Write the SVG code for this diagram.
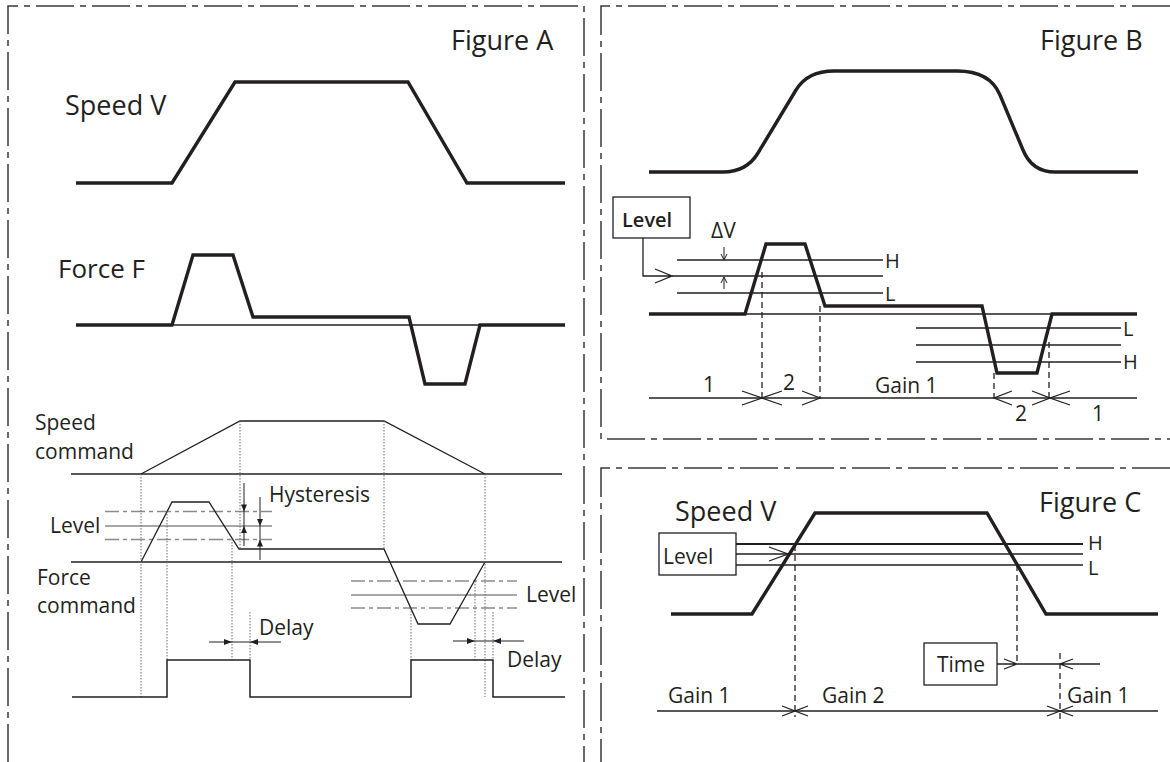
<svg xmlns="http://www.w3.org/2000/svg" width="1170" height="762" viewBox="0 0 1170 762">
<defs>
<style>
text{font-family:"Open Sans","Liberation Sans",sans-serif;fill:#231f20}
.t27{font-size:27px}
.t21{font-size:21px}
.t20{font-size:20px}
.frame{fill:none;stroke:#3a3a3a;stroke-width:1.5;stroke-dasharray:38 6 6 6}
.thick{fill:none;stroke:#231f20;stroke-width:3.4;stroke-linejoin:miter}
.thin{fill:none;stroke:#231f20;stroke-width:1.3}
.lvl{fill:none;stroke:#8a8a8a;stroke-width:1.5}
.lvldd{fill:none;stroke:#8a8a8a;stroke-width:1.5;stroke-dasharray:14 4 4 4}
.dot{fill:none;stroke:#6a6a6a;stroke-width:1;stroke-dasharray:1.5 1.5}
.dash{fill:none;stroke:#231f20;stroke-width:1.3;stroke-dasharray:6 4}
.box{fill:#fff;stroke:#231f20;stroke-width:1.3}
.head{fill:#231f20;stroke:none}
</style>
</defs>

<g id="panels">
<path class="frame" d="M8,762 V6 H584 V762"/>
<path class="frame" d="M1170,6 H601 V439 H1170"/>
<path class="frame" d="M1170,468 H601 V762"/>
</g>

<g id="figure-a">
<text class="t27" x="451" y="50">Figure A</text>
<g id="a-speed">
<text class="t27" x="65" y="115">Speed V</text>
<path class="thick" d="M76,183 H172 L235,82 H408 L467,183 H565"/>
</g>
<g id="a-force">
<text class="t27" x="58" y="278" style="font-size:26px">Force F</text>
<path class="thin" d="M172,325 H480"/>
<path class="thick" d="M76,325 H172 L193,255 H233 L253,317 H409 L425,384 H465 L480,325 H565"/>
</g>
<g id="a-speed-command">
<text class="t21" x="35" y="430">Speed</text>
<text class="t21" x="35" y="459">command</text>
<path class="thin" d="M71,474 H562"/>
<path class="thin" d="M141,474 L240,421 H384 L485,474"/>
</g>
<g id="a-force-command">
<text class="t21" x="37" y="585">Force</text>
<text class="t21" x="37" y="613">command</text>
<path class="lvldd" d="M105,511.5 H272 M105,539.5 H272 M351,581 H517 M351,608 H517"/>
<path class="lvl" d="M105,526 H272 M351,595 H517"/>
<text class="t21" x="50" y="533">Level</text>
<text class="t21" x="526" y="602">Level</text>
<path class="thin" d="M71,562 H562"/>
<path class="thin" d="M141,562 L172,502 H209 L239,549 H384 L418,624 H450 L485,562"/>
</g>
<g id="a-hysteresis">
<text class="t21" x="269" y="502">Hysteresis</text>
<path class="thin" style="stroke-width:1" d="M244,483 V546 M260,497 V560"/>
<path class="head" d="M244,511.5 L241,504.5 L247,504.5 Z M244,526 L241,533 L247,533 Z M260,526 L257,519 L263,519 Z M260,539.5 L257,546.5 L263,546.5 Z"/>
</g>
<g id="a-guides">
<path class="dot" d="M141,474 V697 M167,511 V660 M232,539 V660 M240,421 V549 M250,612 V660 M384,421 V549 M411,608 V660 M475,581 V660 M485,474 V697 M493,612 V660"/>
</g>
<g id="a-output">
<path class="thin" style="stroke-width:1.5" d="M72,697 H167 V660 H250 V697 H411 V660 H493 V697 H565"/>
</g>
<g id="a-delay">
<path class="thin" style="stroke-width:1" d="M209,642 H281 M453,641 H524"/>
<path class="head" d="M232,642 L224,639 L224,645 Z M250,642 L258,639 L258,645 Z M475,641 L467,638 L467,644 Z M493,641 L501,638 L501,644 Z"/>
<text class="t21" x="259" y="635">Delay</text>
<text class="t21" x="507" y="667">Delay</text>
</g>
</g>

<g id="figure-b">
<text class="t27" x="1040" y="50">Figure B</text>
<g id="b-speed">
<path class="thick" d="M649,172 H723 Q746.5,172 758,153 L796,90 Q807.5,71 834,71 H957 Q990,71 1000,95 L1023,150 Q1032,172 1055,172 H1138"/>
</g>
<g id="b-level-box">
<rect class="box" x="613" y="197" width="77" height="41"/>
<text class="t20" x="622" y="227" style="font-weight:600">Level</text>
</g>
<g id="b-levels">
<path class="thin" d="M677,260 H883 M672,276 H883 M677,293 H883"/>
<text class="t20" x="885" y="268">H</text>
<text class="t20" x="885" y="301">L</text>
<text class="t21" x="711" y="238">ΔV</text>
<path class="thin" style="stroke-width:1" d="M724,247 V260 M721,254 L724,260 L727,254 M724,277 V289 M721,283 L724,277 L727,283"/>
<path class="thin" d="M916,328 H1121 M916,345 H1121 M916,362 H1121"/>
<text class="t20" x="1123" y="336">L</text>
<text class="t20" x="1123" y="369">H</text>
</g>
<g id="b-force">
<path class="thin" d="M745,314 H1052"/>
<path class="thick" d="M649,314 H745 L766,244 H805 L825,306 H982 L997,373 H1037 L1052,314 H1137"/>
</g>
<g id="b-gain">
<path class="dash" d="M762,272 V398 M820,306 V398 M994,373 V398 M1049,342 V398"/>
<path class="thin" d="M649,398 H1137"/>
<path class="thin" d="M742,391 L762,398 L742,405 M782,391 L762,398 L782,405 M802,391 L820,398 L802,405 M1012,391 L994,398 L1012,405 M1032,391 L1050,398 L1032,405 M1070,391 L1050,398 L1070,405"/>
<text class="t21" x="703" y="392">1</text>
<text class="t21" x="783" y="390">2</text>
<text class="t21" x="875" y="393">Gain 1</text>
<text class="t21" x="1015" y="421">2</text>
<text class="t21" x="1092" y="421">1</text>
</g>
</g>

<g id="figure-c">
<text class="t27" x="1039" y="512">Figure C</text>
<g id="c-speed">
<text class="t27" x="675" y="521">Speed V</text>
<path class="thick" d="M671,614 H752 L815,513 H987 L1046,614 H1158"/>
</g>
<g id="c-level-box">
<rect class="box" x="659" y="533" width="77" height="42"/>
<text class="t21" x="663" y="564">Level</text>
</g>
<g id="c-levels">
<path class="thin" style="stroke-width:1.8" d="M736,544 H1083"/>
<path class="thin" d="M736,554 H1083 M736,565 H1083"/>
<text class="t20" x="1088" y="550">H</text>
<text class="t20" x="1088" y="575">L</text>
</g>
<g id="c-time-box">
<rect class="box" x="924" y="643" width="73" height="42"/>
<text class="t21" x="937" y="672">Time</text>
</g>
<g id="c-gain">
<path class="dash" d="M795,545 V717 M1017,565 V663 M1060,653 V723"/>
<path class="thin" d="M657,711 H1158"/>
<path class="thin" d="M782,706 L795,711 L782,716 M808,706 L795,711 L808,716 M1047,706 L1060,711 L1047,716 M1073,706 L1060,711 L1073,716"/>
<text class="t21" x="668" y="703">Gain 1</text>
<text class="t21" x="822" y="703">Gain 2</text>
<text class="t21" x="1067" y="703">Gain 1</text>
</g>
</g>

<g id="connectors">
<path class="thin" d="M643,238 V276 H672 M655,269 L672,276 L655,283"/>
<path class="thin" d="M769,547 L788,554 L769,561"/>
<path class="thin" d="M997,664 H1100 M1004,659 L1017,664 L1004,669 M1073,659 L1060,664 L1073,669"/>
</g>
</svg>
